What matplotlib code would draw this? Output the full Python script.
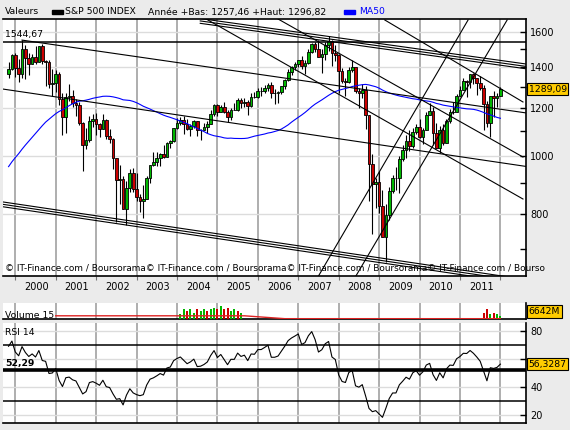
import numpy as np
import pandas as pd
import matplotlib
matplotlib.use("Agg")
import matplotlib.pyplot as plt
from matplotlib.patches import Rectangle
from matplotlib.ticker import FixedLocator, FixedFormatter, NullFormatter

# Mois : 0 = janvier 2000, première bougie = novembre 1999
first_month = -2

# S&P 500, bougies mensuelles nov. 1999 -> janv. 2012
opens = [1362.9, 1388.9,
         1469.3, 1394.5, 1366.4, 1498.6, 1452.4, 1420.6, 1454.6, 1430.8, 1517.7, 1436.5, 1429.4, 1315.0,
         1320.3, 1366.0, 1239.9, 1160.3, 1249.5, 1255.8, 1224.4, 1211.2, 1133.6, 1040.9, 1059.8, 1139.5,
         1148.1, 1130.2, 1106.7, 1147.4, 1076.9, 1067.1, 989.8, 911.6, 916.1, 815.3, 885.8, 936.3,
         879.8, 855.7, 841.2, 848.2, 916.9, 963.6, 974.5, 990.3, 1008.0, 996.0, 1050.7, 1058.2,
         1111.9, 1131.1, 1144.9, 1126.2, 1107.3, 1120.7, 1140.8, 1101.7, 1104.2, 1114.6, 1130.2, 1173.8,
         1211.9, 1181.3, 1203.6, 1180.6, 1156.9, 1191.5, 1191.3, 1234.2, 1220.3, 1228.8, 1207.0, 1249.5,
         1248.3, 1280.1, 1280.7, 1294.8, 1310.6, 1270.1, 1270.2, 1276.7, 1303.8, 1335.9, 1377.9, 1400.6,
         1418.3, 1438.2, 1406.8, 1420.9, 1482.4, 1530.6, 1503.4, 1455.3, 1474.0, 1526.8, 1549.4, 1481.1,
         1468.4, 1378.6, 1330.6, 1322.7, 1385.6, 1400.4, 1280.0, 1267.4, 1282.8, 1166.4, 968.8, 896.2,
         903.3, 825.9, 735.1, 797.9, 872.8, 919.1, 919.3, 987.5, 1020.6, 1057.1, 1036.2, 1095.6,
         1115.1, 1073.9, 1104.5, 1169.4, 1186.7, 1089.4, 1030.7, 1101.6, 1049.3, 1141.2, 1183.3, 1180.6,
         1257.6, 1286.1, 1327.2, 1325.8, 1363.6, 1345.2, 1320.6, 1292.3, 1218.9, 1131.4, 1253.3, 1247.0,
         1257.6]
highs = [1427, 1473,
         1478, 1444, 1553, 1527, 1481, 1475, 1518, 1520, 1531, 1437, 1438, 1389,
         1384, 1377, 1268, 1269, 1316, 1286, 1239, 1227, 1135, 1111, 1163, 1173,
         1176, 1131, 1173, 1148, 1106, 1070, 990, 966, 924, 907, 951, 954,
         935, 865, 895, 924, 965, 1015, 1016, 1011, 1040, 1053, 1063, 1112,
         1156, 1159, 1164, 1151, 1128, 1146, 1141, 1109, 1132, 1142, 1188, 1217,
         1217, 1212, 1229, 1192, 1199, 1220, 1246, 1246, 1244, 1234, 1270, 1276,
         1295, 1297, 1310, 1318, 1326, 1291, 1280, 1306, 1340, 1390, 1407, 1431,
         1441, 1462, 1438, 1499, 1535, 1540, 1556, 1503, 1539, 1576, 1552, 1524,
         1471, 1396, 1344, 1404, 1440, 1404, 1293, 1313, 1303, 1167, 1007, 919,
         944, 877, 833, 888, 930, 957, 997, 1040, 1081, 1101, 1113, 1130,
         1150, 1113, 1181, 1220, 1206, 1131, 1120, 1129, 1149, 1196, 1227, 1263,
         1302, 1344, 1333, 1364, 1370, 1346, 1357, 1308, 1230, 1256, 1278, 1270,
         1297]
lows = [1342, 1387,
        1350, 1325, 1346, 1339, 1361, 1420, 1416, 1430, 1420, 1305, 1294, 1254,
        1274, 1215, 1081, 1091, 1232, 1203, 1165, 1124, 944, 1026, 1054, 1114,
        1081, 1075, 1106, 1064, 1048, 952, 776, 833, 815, 768, 872, 872,
        840, 807, 789, 847, 902, 963, 962, 960, 990, 996, 1031, 1053,
        1106, 1124, 1087, 1103, 1076, 1113, 1079, 1060, 1101, 1090, 1128, 1163,
        1164, 1180, 1176, 1137, 1147, 1188, 1184, 1201, 1206, 1168, 1202, 1246,
        1246, 1253, 1269, 1280, 1245, 1219, 1224, 1264, 1291, 1327, 1360, 1385,
        1403, 1389, 1364, 1416, 1476, 1484, 1454, 1371, 1439, 1490, 1406, 1435,
        1270, 1317, 1257, 1321, 1373, 1272, 1200, 1248, 1107, 840, 741, 818,
        805, 735, 667, 784, 866, 877, 869, 979, 992, 1020, 1030, 1086,
        1071, 1045, 1102, 1169, 1041, 1029, 1011, 1040, 1049, 1131, 1173, 1179,
        1257, 1284, 1249, 1295, 1312, 1258, 1282, 1101, 1114, 1075, 1159, 1203,
        1257]
closes = [1388.9, 1469.3,
          1394.5, 1366.4, 1498.6, 1452.4, 1420.6, 1454.6, 1430.8, 1517.7, 1436.5, 1429.4, 1315.0, 1320.3,
          1366.0, 1239.9, 1160.3, 1249.5, 1255.8, 1224.4, 1211.2, 1133.6, 1040.9, 1059.8, 1139.5, 1148.1,
          1130.2, 1106.7, 1147.4, 1076.9, 1067.1, 989.8, 911.6, 916.1, 815.3, 885.8, 936.3, 879.8,
          855.7, 841.2, 848.2, 916.9, 963.6, 974.5, 990.3, 1008.0, 996.0, 1050.7, 1058.2, 1111.9,
          1131.1, 1144.9, 1126.2, 1107.3, 1120.7, 1140.8, 1101.7, 1104.2, 1114.6, 1130.2, 1173.8, 1211.9,
          1181.3, 1203.6, 1180.6, 1156.9, 1191.5, 1191.3, 1234.2, 1220.3, 1228.8, 1207.0, 1249.5, 1248.3,
          1280.1, 1280.7, 1294.8, 1310.6, 1270.1, 1270.2, 1276.7, 1303.8, 1335.9, 1377.9, 1400.6, 1418.3,
          1438.2, 1406.8, 1420.9, 1482.4, 1530.6, 1503.4, 1455.3, 1474.0, 1526.8, 1549.4, 1481.1, 1468.4,
          1378.6, 1330.6, 1322.7, 1385.6, 1400.4, 1280.0, 1267.4, 1282.8, 1166.4, 968.8, 896.2, 903.3,
          825.9, 735.1, 797.9, 872.8, 919.1, 919.3, 987.5, 1020.6, 1057.1, 1036.2, 1095.6, 1115.1,
          1073.9, 1104.5, 1169.4, 1186.7, 1089.4, 1030.7, 1101.6, 1049.3, 1141.2, 1183.3, 1180.6, 1257.6,
          1286.1, 1327.2, 1325.8, 1363.6, 1345.2, 1320.6, 1292.3, 1218.9, 1131.4, 1253.3, 1247.0, 1257.6,
          1289.09]

# clôtures janv. 1995 -> oct. 1999 (pour MA50 et RSI)
prior_closes = [470.4, 487.4, 500.7, 514.7, 533.4, 544.8, 562.1, 561.9, 584.4, 581.5, 605.4, 615.9,
                636.0, 640.4, 645.5, 654.2, 669.1, 670.6, 640.0, 652.0, 687.3, 705.3, 757.0, 740.7,
                786.2, 790.8, 757.1, 801.3, 848.3, 885.1, 954.3, 899.5, 947.3, 914.6, 955.4, 970.4,
                980.3, 1049.3, 1101.8, 1111.8, 1090.8, 1133.8, 1120.7, 957.3, 1017.0, 1098.7, 1163.6, 1229.2,
                1279.6, 1238.3, 1286.4, 1335.2, 1301.8, 1372.7, 1328.7, 1320.4, 1282.7, 1362.9]

years = list(range(2000, 2012))
price_ticks = [800, 1000, 1200, 1400, 1600]
price_minor = [700, 900, 1100, 1300, 1500]
rsi_grid = [20, 40, 60, 80]
rsi_bands = [70, 30]
rsi_mid = 52.29
top_level = 1544.67
last_price = 1289.09
last_rsi = 56.3287

# volume (fraction de hauteur du panneau), seulement là où il est affiché
vol_months = [49, 50, 51, 52, 53, 54, 55, 56, 57, 58, 59, 60, 61, 62, 63, 64, 65, 66, 67,
              139, 140, 141, 142, 143, 144]
vol_values = [0.3, 0.6, 0.5, 0.6, 0.4, 0.6, 0.5, 0.6, 0.5, 0.6, 0.7, 0.6, 0.8, 0.6, 0.7, 0.5, 0.6, 0.5, 0.4,
              0.4, 0.6, 0.3, 0.4, 0.3, 0.2]
vol_up = [1, 1, 0, 1, 1, 0, 1, 1, 0, 1, 1, 0, 1, 0, 0, 1, 1, 0, 1,
          0, 0, 1, 0, 1, 1]
vol_avg_months = [12, 48, 60, 68, 80, 144]
vol_avg_values = [0.2, 0.2, 0.2, 0.2, 0.02, 0.02]

# lignes de tendance : (mois, prix) -> (mois, prix)
trend_lines = [
    ((2, 1553), (151.6, 1177)),
    ((-3.7, 1289), (151.6, 960)),
    ((-3.7, 838.6), (151.6, 624)),
    ((-3.7, 831), (151.6, 618.4)),
    ((-3.7, 823.4), (151.6, 612.9)),
    ((54.9, 1686), (151.6, 1418)),
    ((54.9, 1670.7), (151.6, 1405)),
    ((54.9, 1655.5), (151.6, 1392.4)),
    ((57.2, 1676.5), (150.7, 848)),
    ((78.0, 1683), (150.7, 995)),
    ((109.7, 1676.5), (150.7, 1227)),
    ((90.0, 632.5), (134.4, 1676.5)),
    ((101.1, 632.5), (146, 1676.5)),
]

W, H = 570, 430
GREEN, RED = "#00b800", "#cc0000"
GRID_V, GRID_H = "#a8a8a8", "#dcdcdc"
FS = 6.7
plt.rcParams["font.family"] = ["DejaVu Sans"]


def fx(x):
    return x / W


def fy(y):
    return 1 - y / H


fig = plt.figure(figsize=(W / 100, H / 100), dpi=100, facecolor="#ebebeb")
ax = fig.add_axes([fx(3), fy(276), fx(526) - fx(3), fy(19) - fy(276)])
axv = fig.add_axes([fx(3), fy(319), fx(526) - fx(3), fy(303) - fy(319)])
axr = fig.add_axes([fx(3), fy(423), fx(526) - fx(3), fy(323) - fy(423)])

months = np.arange(first_month, first_month + len(closes))
o, h, l, c = map(np.array, (opens, highs, lows, closes))
year_starts = [12 * (y - 2000) for y in years + [2012]]
xlim = (-3.65, 151.6)

# indicateurs
all_closes = np.array(prior_closes + closes)
ma50 = pd.Series(all_closes).rolling(50).mean().values[len(prior_closes):]


def rsi(values, n=14):
    d = np.diff(values)
    gain = np.where(d > 0, d, 0.0)
    loss = np.where(d < 0, -d, 0.0)
    res = np.full(len(values), np.nan)
    ag, al = gain[:n].mean(), loss[:n].mean()
    res[n] = 100 - 100 / (1 + ag / al)
    for i in range(n + 1, len(values)):
        ag = (ag * (n - 1) + gain[i - 1]) / n
        al = (al * (n - 1) + loss[i - 1]) / n
        res[i] = 100 - 100 / (1 + ag / al)
    return res


rsi14 = rsi(all_closes)[len(prior_closes):]

for a in (ax, axv, axr):
    a.set_facecolor("white")
    a.set_xlim(*xlim)
    for m in year_starts:
        a.axvline(m, color=GRID_V, lw=1.3, zorder=0)
    a.spines["left"].set_visible(False)
    a.spines["top"].set_visible(False)
    for s in ("right", "bottom"):
        a.spines[s].set_linewidth(1.2)
ax.spines["top"].set_visible(True)
ax.spines["top"].set_linewidth(1.2)

# --- prix ---
ax.set_yscale("log")
ax.set_ylim(632.5, 1683)
for p in price_ticks:
    ax.axhline(p, color=GRID_H, lw=1, zorder=0)

up = c >= o
ax.vlines(months, l, h, color="black", lw=0.8, zorder=3)
ax.bar(months[up], (c - o)[up], bottom=o[up], width=0.8, color=GREEN,
       edgecolor="black", linewidth=0.6, zorder=4)
ax.bar(months[~up], (o - c)[~up], bottom=c[~up], width=0.8, color=RED,
       edgecolor="black", linewidth=0.6, zorder=4)
ax.plot(months, ma50, color="#0000ff", lw=0.8, zorder=5)

ax.axhline(top_level, color="black", lw=1.1, zorder=5)
for (m1, p1), (m2, p2) in trend_lines:
    ax.plot([m1, m2], [p1, p2], color="black", lw=0.8, zorder=5)

ax.annotate("1544,67", xy=(0.004, top_level), xycoords=("axes fraction", "data"),
            xytext=(0, 2), textcoords="offset points", fontsize=FS, va="bottom")
ax.text(0.004, 0.03, "© IT-Finance.com / Boursorama" * 3 + "© IT-Finance.com / Bourso",
        transform=ax.transAxes, fontsize=6.4, va="center", ha="left", clip_on=False, zorder=6)

ax.yaxis.tick_right()
ax.yaxis.set_major_locator(FixedLocator(price_ticks))
ax.yaxis.set_major_formatter(FixedFormatter([str(p) for p in price_ticks]))
ax.yaxis.set_minor_locator(FixedLocator(price_minor))
ax.yaxis.set_minor_formatter(NullFormatter())
ax.tick_params(axis="y", which="both", direction="in", length=4, width=1,
               labelsize=7, pad=3)
ax.set_xticks(year_starts)
ax.set_xticklabels([])
ax.set_xticks([12 * (y - 2000) + 6.3 for y in years], minor=True)
ax.set_xticklabels([str(y) for y in years], minor=True)
ax.tick_params(axis="x", which="major", direction="out", length=3, color="#777777")
ax.tick_params(axis="x", which="minor", length=0, pad=4, labelsize=7)


def value_box(axis, text, y, ycoords="data"):
    axis.annotate(text, xy=(1, y), xycoords=("axes fraction", ycoords), xytext=(1.8, 0),
                  textcoords="offset points", fontsize=FS, va="center", ha="left",
                  annotation_clip=False, zorder=10,
                  bbox=dict(boxstyle="square,pad=0.2", fc="#ffcc00", ec="black", lw=0.8))


value_box(ax, f"{last_price:.2f}".replace(".", ","), last_price)

# --- volume ---
axv.set_ylim(0, 1)
axv.set_yticks([])
axv.set_xticks([])
vm = np.array(vol_months)
vv = np.array(vol_values)
vu = np.array(vol_up, dtype=bool)
axv.bar(vm[vu], vv[vu], width=0.6, color=GREEN, zorder=3)
axv.bar(vm[~vu], vv[~vu], width=0.6, color=RED, zorder=3)
axv.plot(vol_avg_months, vol_avg_values, color="#dd2222", lw=1, zorder=4)
axv.text(0.004, 0.22, "Volume 15", transform=axv.transAxes, fontsize=FS, va="center")
value_box(axv, "6642M", 0.45, ycoords="axes fraction")

# --- RSI ---
axr.set_ylim(14.3, 85.7)
for v in rsi_grid:
    axr.axhline(v, color=GRID_H, lw=1, zorder=0)
for v in rsi_bands:
    axr.axhline(v, color="black", lw=1.1, zorder=2)
axr.axhline(rsi_mid, color="black", lw=2.6, zorder=2)
axr.plot(months, rsi14, color="black", lw=0.8, zorder=3)
axr.text(0.004, 79, "RSI 14", transform=axr.get_yaxis_transform(), fontsize=FS, va="center")
axr.text(0.004, 57, f"{rsi_mid:.2f}".replace(".", ","), transform=axr.get_yaxis_transform(),
         fontsize=FS, fontweight="bold", va="center")
axr.yaxis.tick_right()
axr.set_yticks(rsi_grid)
axr.set_yticklabels(["20", "40", "", "80"])
axr.tick_params(axis="y", direction="in", length=4, width=1, labelsize=7, pad=3)
axr.set_xticks([])
value_box(axr, f"{last_rsi:.4f}".replace(".", ","), last_rsi)

# --- en-tête ---
fig.text(fx(5), fy(12), "Valeurs", fontsize=FS, va="center")
fig.patches.append(Rectangle((fx(52), fy(13.5)), fx(11), 3 / H, transform=fig.transFigure,
                             color="black"))
fig.text(fx(65), fy(12), "S&P 500 INDEX", fontsize=FS, va="center")
fig.text(fx(148), fy(12), "Année +Bas: 1257,46 +Haut: 1296,82", fontsize=FS, va="center")
fig.patches.append(Rectangle((fx(344), fy(13.5)), fx(11), 3 / H, transform=fig.transFigure,
                             color="#0000ff"))
fig.text(fx(359), fy(12), "MA50", fontsize=FS, va="center", color="#0000ff")

fig.savefig("out.png", dpi=100, facecolor=fig.get_facecolor())
